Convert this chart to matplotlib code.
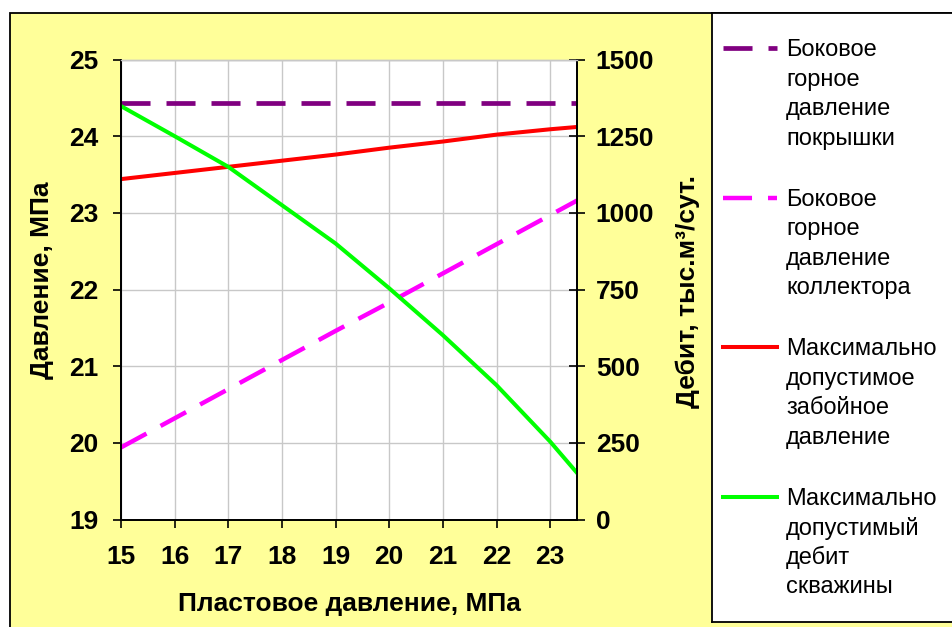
import matplotlib
matplotlib.use("Agg")
import matplotlib.pyplot as plt
from matplotlib.patches import Rectangle
from matplotlib.lines import Line2D

plt.rcParams["font.family"] = ["Liberation Sans", "DejaVu Sans"]
plt.rcParams["lines.scale_dashes"] = False

# data
pressure = [15, 16, 17, 18, 19, 20, 21, 22, 23, 23.5]
cap_rock_pressure = [24.43, 24.43, 24.43, 24.43, 24.43, 24.43, 24.43, 24.43, 24.43, 24.43]
reservoir_pressure = [19.94, 20.32, 20.70, 21.08, 21.46, 21.83, 22.21, 22.59, 22.97, 23.16]
bottomhole_pressure = [23.44, 23.52, 23.60, 23.68, 23.76, 23.85, 23.93, 24.02, 24.09, 24.12]
well_rate = [1348, 1250, 1150, 1025, 900, 754, 601, 438, 254, 152]

x_ticks = [15, 16, 17, 18, 19, 20, 21, 22, 23]
left_ticks = [19, 20, 21, 22, 23, 24, 25]
right_ticks = [0, 250, 500, 750, 1000, 1250, 1500]

labels = [
    "Боковое\nгорное\nдавление\nпокрышки",
    "Боковое\nгорное\nдавление\nколлектора",
    "Максимально\nдопустимое\nзабойное\nдавление",
    "Максимально\nдопустимый\nдебит\nскважины",
]

dash = (0, (20.9, 11.5))
styles = [
    dict(color="#800080", lw=3.4, linestyle=dash),
    dict(color="#FF00FF", lw=3.2, linestyle=dash),
    dict(color="#FF0000", lw=2.9, linestyle="-"),
    dict(color="#00FF00", lw=2.9, linestyle="-"),
]

W, H = 952, 627
fig = plt.figure(figsize=(W / 100, H / 100), dpi=100)
fig.patch.set_facecolor("white")

# chart area background
fig.add_artist(Rectangle((10 / W, -0.1), 1.2, 1 - 13 / H + 0.1,
                         transform=fig.transFigure, facecolor="#FFFF99",
                         edgecolor="black", lw=1.3, zorder=0))

ax = fig.add_axes([121 / W, (H - 519.5) / H, 456 / W, 460 / H])
ax.set_facecolor("white")
ax2 = ax.twinx()

grid_color = "#C8C8C8"
ax.grid(True, color=grid_color, lw=1)
ax.set_axisbelow(True)

ax.plot(pressure, cap_rock_pressure, **styles[0])
ax.plot(pressure, reservoir_pressure, **styles[1])
ax.plot(pressure, bottomhole_pressure, **styles[2])
ax2.plot(pressure, well_rate, **styles[3])

ax.set_xlim(15, 23.5)
ax.set_ylim(19, 25)
ax2.set_ylim(0, 1500)
ax.set_xticks(x_ticks)
ax.set_yticks(left_ticks)
ax2.set_yticks(right_ticks)

for a in (ax, ax2):
    for side in ("left", "right", "bottom"):
        a.spines[side].set_color("black")
        a.spines[side].set_linewidth(1.3)
    a.spines["top"].set_color(grid_color)
    a.spines["top"].set_linewidth(1)

ax.tick_params(axis="y", direction="out", length=6, width=1.2, pad=10, labelsize=19)
ax.tick_params(axis="x", direction="out", length=6, width=1.2, pad=12, labelsize=19)
ax2.tick_params(axis="y", direction="inout", length=11, width=1.2, pad=8, labelsize=19)
for lab in ax.get_xticklabels() + ax.get_yticklabels() + ax2.get_yticklabels():
    lab.set_fontweight("bold")

ax.set_xlabel("Пластовое давление, МПа", fontsize=19, fontweight="bold")
ax.xaxis.set_label_coords(0.5, -0.158)
ax.set_ylabel("Давление, МПа", fontsize=19, fontweight="bold")
ax.yaxis.set_label_coords(-0.148, 0.52)
ax2.set_ylabel("Дебит, тыс.м³/сут.", fontsize=19, fontweight="bold")
ax2.yaxis.set_label_coords(1.215, 0.495)

# legend box, drawn in pixel coordinates
lax = fig.add_axes([712 / W, (H - 622) / H, 300 / W, 609 / H])
lax.set_xlim(712, 1012)
lax.set_ylim(622, 13)
lax.set_xticks([])
lax.set_yticks([])
lax.set_facecolor("white")
for sp in lax.spines.values():
    sp.set_color("black")
    sp.set_linewidth(1.3)

first_line = 50
entry_step = 149.5
line_step = 29.5
for i, (label, style) in enumerate(zip(labels, styles)):
    y0 = first_line + i * entry_step
    lax.add_line(Line2D([723, 777], [y0 - 2, y0 - 2], **style))
    for j, line in enumerate(label.split("\n")):
        lax.text(786, y0 + j * line_step, line, fontsize=17, va="center", ha="left")

fig.savefig("out.png", dpi=100)
